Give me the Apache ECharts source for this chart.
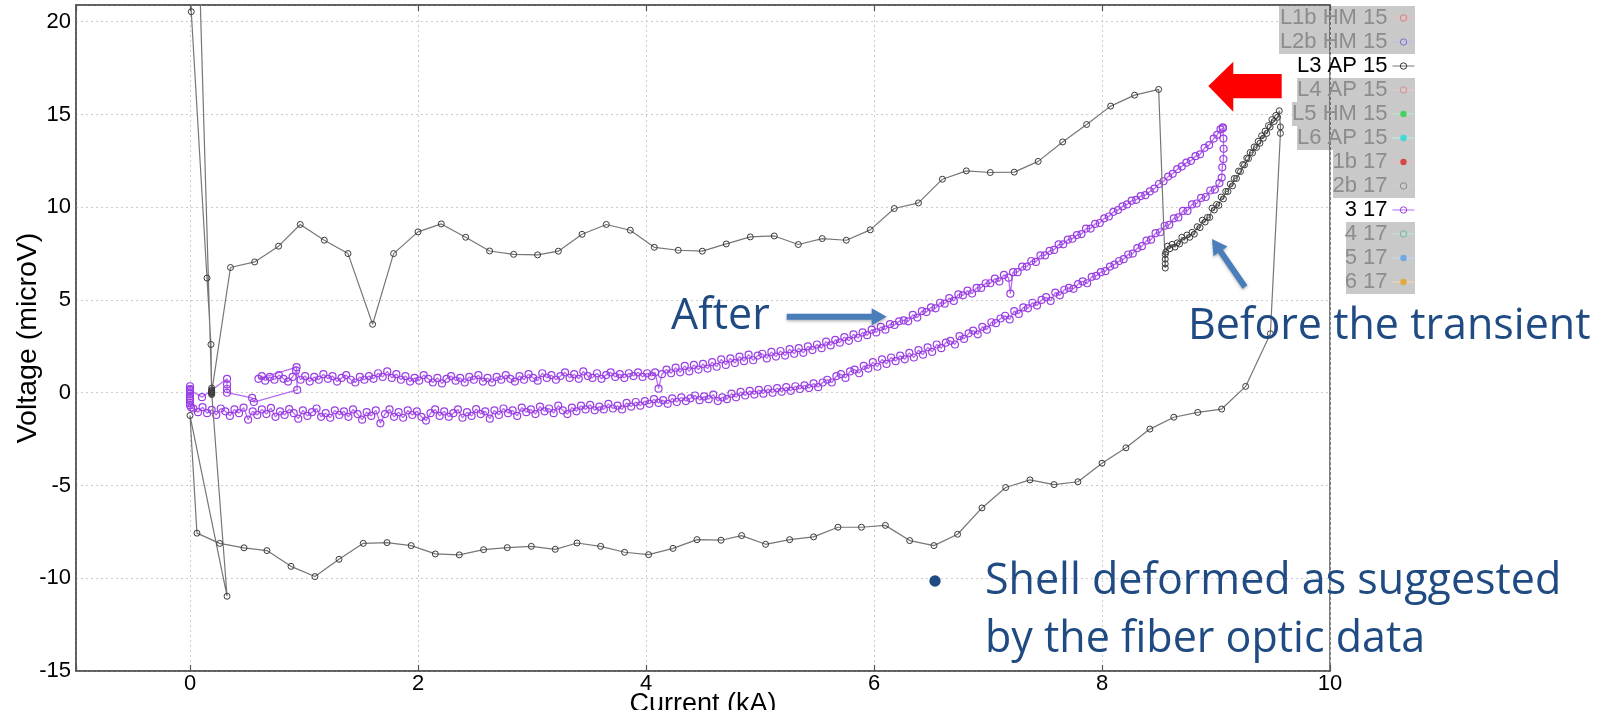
<!DOCTYPE html>
<html>
<head>
<meta charset="utf-8">
<script src="https://cdn.jsdelivr.net/npm/echarts@6/dist/echarts.min.js"></script>
<style>
  html, body { margin: 0; padding: 0; background: #ffffff; }
  #chart { width: 1614px; height: 725px; }
</style>
</head>
<body>
<div id="chart"></div>
<script>
// ---- Legend entries (all channels of the run) ----
const legendNames = ['L1b HM 15', 'L2b HM 15', 'L3 AP 15', 'L4 AP 15', 'L5 HM 15', 'L6 AP 15',
  '1b 17', '2b 17', '3 17', '4 17', '5 17', '6 17'];
const activeNames = ['L3 AP 15', '3 17'];

// ---- Axis tick values ----
const yTickValues = [-15, -10, -5, 0, 5, 10, 15, 20];
const xTickValues = [0, 2, 4, 6, 8, 10];

// ---- L3 AP 15 : [current kA, voltage microV] ----
const l3Start = [
  [0.19, 0.25], [0.19, 0.05], [0.19, -0.1], [0.19, 0.15], [0.19, -0.05], [0.19, 0.1],
  [0.0, 40], [0.011, 20.54], [0.149, 6.18], [0.184, 2.6], [0.19, 0.0],
  [0.325, -10.97], [0.0, -1.23]
];
const l3Lower = [
  [0.061, -7.57], [0.26, -8.12], [0.474, -8.36], [0.675, -8.51], [0.886, -9.36], [1.096, -9.91],
  [1.307, -8.98], [1.52, -8.12], [1.728, -8.08], [1.94, -8.24], [2.152, -8.69], [2.362, -8.74],
  [2.575, -8.46], [2.783, -8.35], [2.994, -8.28], [3.204, -8.44], [3.395, -8.10], [3.602, -8.28],
  [3.812, -8.60], [4.023, -8.73], [4.237, -8.39], [4.447, -7.92], [4.658, -7.95], [4.839, -7.70],
  [5.049, -8.17], [5.26, -7.92], [5.47, -7.77], [5.684, -7.25], [5.89, -7.25], [6.10, -7.15],
  [6.313, -7.97], [6.526, -8.24], [6.733, -7.63], [6.947, -6.21], [7.155, -5.11], [7.368, -4.70],
  [7.579, -4.95], [7.789, -4.80], [8.0, -3.80], [8.21, -2.97], [8.42, -1.96], [8.63, -1.32],
  [8.84, -1.06], [9.05, -0.88], [9.26, 0.34], [9.477, 3.18], [9.565, 13.98], [9.565, 14.33]
];
const l3Dense = [
  [9.555, 15.20], [9.54, 14.85], [9.525, 14.95], [9.51, 14.62], [9.49, 14.72], [9.475, 14.32],
  [9.46, 14.40], [9.445, 13.98], [9.43, 14.10], [9.415, 13.72], [9.40, 13.85], [9.385, 13.45],
  [9.37, 13.55], [9.355, 13.22], [9.335, 13.25], [9.32, 12.92], [9.30, 12.95], [9.285, 12.62],
  [9.27, 12.65], [9.25, 12.28], [9.235, 12.30], [9.215, 11.92], [9.198, 11.95], [9.18, 11.55],
  [9.16, 11.55], [9.145, 11.15], [9.125, 11.25], [9.105, 10.85], [9.085, 10.85], [9.065, 10.45],
  [9.045, 10.55], [9.025, 10.10], [9.005, 10.15], [8.985, 9.85], [8.965, 9.95], [8.945, 9.45],
  [8.925, 9.45], [8.905, 9.20], [8.88, 9.30], [8.86, 8.90], [8.835, 8.95], [8.81, 8.55],
  [8.79, 8.65], [8.77, 8.38], [8.745, 8.50], [8.725, 8.22], [8.70, 8.38], [8.68, 8.02],
  [8.66, 8.08], [8.64, 7.85], [8.615, 8.00], [8.595, 7.76], [8.575, 7.90], [8.56, 7.58],
  [8.555, 7.45], [8.555, 7.20], [8.555, 6.95], [8.555, 6.72]
];
// upper branch, listed by increasing current
const l3Upper = [
  [0.355, 6.75], [0.567, 7.05], [0.777, 7.90], [0.967, 9.07], [1.178, 8.22], [1.386, 7.50],
  [1.602, 3.69], [1.786, 7.50], [2.0, 8.67], [2.204, 9.10], [2.418, 8.38], [2.628, 7.64],
  [2.839, 7.46], [3.049, 7.43], [3.231, 7.63], [3.439, 8.54], [3.652, 9.07], [3.862, 8.76],
  [4.073, 7.84], [4.283, 7.68], [4.494, 7.63], [4.704, 8.02], [4.915, 8.40], [5.125, 8.45],
  [5.336, 7.99], [5.546, 8.31], [5.757, 8.22], [5.967, 8.78], [6.178, 9.93], [6.39, 10.23],
  [6.60, 11.51], [6.81, 11.96], [7.02, 11.87], [7.23, 11.89], [7.44, 12.47], [7.655, 13.52],
  [7.865, 14.46], [8.076, 15.45], [8.286, 16.04], [8.497, 16.35]
];
const l3End = [[0.19, 0.02]];

// ---- 3 17 : [current kA, voltage microV] ----
const p17Start = [
  [0.0, 0.35], [0.0, 0.2], [0.0, 0.08], [0.0, -0.05], [0.0, -0.18], [0.0, -0.3],
  [0.0, -0.42], [0.0, -0.55], [0.0, -0.68], [0.01, -0.8]
];
const p17Rise = [
  [0.03, -0.85], [0.07, -1.05], [0.11, -0.78], [0.15, -1.1], [0.19, -0.92], [0.23, -1.2],
  [0.27, -0.85], [0.31, -1.0], [0.35, -1.25], [0.39, -0.9], [0.43, -1.1], [0.47, -0.8],
  [0.51, -1.45], [0.55, -1.0], [0.59, -1.2], [0.63, -0.9], [0.67, -1.15], [0.71, -0.82],
  [0.75, -1.3], [0.79, -1.0], [0.83, -1.2], [0.87, -0.88], [0.91, -1.1], [0.95, -1.4],
  [0.99, -0.95], [1.03, -1.25], [1.07, -1.05], [1.11, -0.85], [1.15, -1.3], [1.19, -1.1],
  [1.23, -1.35], [1.27, -0.95], [1.31, -1.2], [1.35, -1.0], [1.39, -1.3], [1.43, -0.9],
  [1.47, -1.15], [1.51, -1.45], [1.55, -1.05], [1.59, -1.25], [1.63, -0.95], [1.67, -1.65],
  [1.71, -1.15], [1.75, -0.9], [1.79, -1.3], [1.83, -1.05], [1.87, -1.35], [1.91, -0.95],
  [1.95, -1.2], [1.99, -1.0], [2.03, -1.3], [2.07, -1.5], [2.11, -1.1], [2.15, -0.9],
  [2.19, -1.25], [2.23, -1.0], [2.27, -1.3], [2.31, -1.1], [2.35, -0.9], [2.39, -1.35],
  [2.43, -1.05], [2.47, -1.25], [2.51, -0.88], [2.55, -1.15], [2.59, -1.0], [2.63, -1.4],
  [2.67, -0.95], [2.71, -1.2], [2.75, -0.85], [2.79, -1.1], [2.83, -0.95], [2.87, -1.25],
  [2.91, -0.8], [2.95, -1.05], [2.99, -0.9], [3.03, -1.15], [3.07, -0.75], [3.11, -1.0],
  [3.15, -0.85], [3.19, -1.1], [3.23, -0.7], [3.27, -0.95], [3.31, -1.15], [3.35, -0.8],
  [3.39, -1.0], [3.43, -0.7], [3.47, -0.9], [3.51, -0.65], [3.55, -0.95], [3.59, -0.75],
  [3.63, -0.9], [3.67, -0.6], [3.71, -0.85], [3.75, -0.7], [3.79, -0.9], [3.83, -0.55],
  [3.87, -0.75], [3.91, -0.5], [3.95, -0.7], [3.99, -0.45], [4.03, -0.6], [4.07, -0.35],
  [4.11, -0.55], [4.15, -0.4], [4.19, -0.6], [4.23, -0.3], [4.27, -0.5], [4.31, -0.25],
  [4.35, -0.45], [4.39, -0.3], [4.43, -0.15], [4.47, -0.4], [4.51, -0.2], [4.55, -0.35],
  [4.59, -0.1], [4.63, -0.45], [4.67, -0.25], [4.71, -0.35], [4.75, -0.05], [4.79, -0.25],
  [4.83, 0.05], [4.87, -0.15], [4.91, 0.1], [4.95, -0.1], [4.99, 0.15], [5.03, -0.05],
  [5.07, 0.2], [5.11, 0.0], [5.15, 0.25], [5.19, 0.05], [5.23, 0.3], [5.27, 0.1],
  [5.31, 0.35], [5.35, 0.2], [5.39, 0.4], [5.43, 0.25], [5.47, 0.5], [5.51, 0.3],
  [5.55, 0.55], [5.59, 0.7], [5.63, 0.55], [5.67, 0.9], [5.71, 1.0], [5.75, 0.8],
  [5.79, 1.15], [5.83, 1.25], [5.87, 1.05], [5.91, 1.45], [5.95, 1.3], [5.99, 1.65],
  [6.03, 1.4], [6.07, 1.8], [6.11, 1.55], [6.15, 1.9], [6.19, 1.7], [6.23, 2.0],
  [6.27, 1.8], [6.31, 2.15], [6.35, 1.9], [6.39, 2.3], [6.43, 2.05], [6.47, 2.45],
  [6.51, 2.2], [6.55, 2.6], [6.59, 2.4], [6.63, 2.7], [6.67, 2.8], [6.71, 2.6],
  [6.75, 3.05], [6.79, 2.9], [6.83, 3.2], [6.87, 3.35], [6.91, 3.15], [6.95, 3.55],
  [6.99, 3.4], [7.03, 3.8], [7.07, 3.75], [7.11, 4.0], [7.15, 4.15], [7.19, 3.95],
  [7.23, 4.4], [7.27, 4.25], [7.31, 4.6], [7.35, 4.55], [7.39, 4.85], [7.43, 4.7],
  [7.47, 5.0], [7.51, 5.15], [7.55, 4.95], [7.59, 5.4], [7.63, 5.25], [7.67, 5.55],
  [7.71, 5.65], [7.75, 5.6], [7.79, 5.85], [7.83, 6.0], [7.87, 5.9], [7.91, 6.25],
  [7.95, 6.3], [7.99, 6.5], [8.03, 6.55], [8.07, 6.8], [8.11, 6.9], [8.15, 7.1],
  [8.19, 7.2], [8.23, 7.45], [8.27, 7.5], [8.31, 7.8], [8.35, 7.9], [8.39, 8.2],
  [8.43, 8.25], [8.47, 8.6], [8.51, 8.65], [8.55, 9.0], [8.59, 9.05], [8.63, 9.4],
  [8.67, 9.45], [8.71, 9.8], [8.75, 9.8], [8.79, 10.15], [8.83, 10.2], [8.87, 10.5],
  [8.91, 10.55], [8.95, 10.9], [8.99, 10.95], [9.03, 11.3], [9.05, 11.6],
  [9.055, 12.15], [9.065, 12.6], [9.067, 13.15], [9.065, 13.7], [9.06, 14.25]
];
// return branch, listed by increasing current
const p17Fall = [
  [0.60, 0.75], [0.63, 0.9], [0.66, 0.65], [0.70, 0.85], [0.74, 0.7], [0.78, 0.95],
  [0.82, 0.75], [0.86, 0.6], [0.90, 0.85], [0.93, 1.2], [0.97, 0.7], [1.01, 0.9],
  [1.05, 0.6], [1.09, 0.85], [1.13, 0.7], [1.17, 1.0], [1.21, 0.75], [1.25, 0.9],
  [1.29, 0.6], [1.33, 0.8], [1.37, 0.95], [1.41, 0.7], [1.45, 0.55], [1.49, 0.85],
  [1.53, 0.7], [1.57, 0.9], [1.61, 0.75], [1.65, 1.05], [1.69, 0.85], [1.73, 1.15],
  [1.77, 0.8], [1.81, 1.0], [1.85, 0.7], [1.89, 0.9], [1.93, 0.6], [1.97, 0.8],
  [2.01, 0.65], [2.05, 0.95], [2.09, 0.75], [2.13, 0.55], [2.17, 0.8], [2.21, 0.5],
  [2.25, 0.75], [2.29, 0.9], [2.33, 0.65], [2.37, 0.8], [2.41, 0.55], [2.45, 0.85],
  [2.49, 0.7], [2.53, 0.95], [2.57, 0.6], [2.61, 0.8], [2.65, 0.55], [2.69, 0.85],
  [2.73, 0.7], [2.77, 0.95], [2.81, 0.75], [2.85, 0.6], [2.89, 0.9], [2.93, 0.7],
  [2.97, 1.0], [3.01, 0.8], [3.05, 0.65], [3.09, 1.05], [3.13, 0.8], [3.17, 0.95],
  [3.21, 0.7], [3.25, 0.9], [3.29, 1.1], [3.33, 0.8], [3.37, 1.0], [3.41, 0.75],
  [3.45, 1.15], [3.49, 0.9], [3.53, 0.8], [3.57, 1.05], [3.61, 0.75], [3.65, 0.95],
  [3.69, 1.1], [3.73, 0.85], [3.77, 1.0], [3.81, 0.8], [3.85, 1.05], [3.89, 0.9],
  [3.93, 1.1], [3.97, 0.85], [4.01, 1.05], [4.05, 0.9], [4.08, 1.1], [4.11, 0.22],
  [4.14, 1.0], [4.18, 1.25], [4.22, 1.05], [4.26, 1.35], [4.30, 1.1], [4.34, 1.45],
  [4.38, 1.15], [4.42, 1.5], [4.46, 1.25], [4.50, 1.55], [4.54, 1.3], [4.58, 1.65],
  [4.62, 1.4], [4.66, 1.8], [4.70, 1.5], [4.74, 1.85], [4.78, 1.6], [4.82, 1.95],
  [4.86, 1.7], [4.90, 2.05], [4.94, 1.75], [4.98, 2.0], [5.02, 2.1], [5.06, 1.85],
  [5.10, 2.2], [5.14, 1.95], [5.18, 2.25], [5.22, 2.0], [5.26, 2.35], [5.30, 2.1],
  [5.34, 2.4], [5.38, 2.15], [5.42, 2.5], [5.46, 2.3], [5.50, 2.6], [5.54, 2.4],
  [5.58, 2.75], [5.62, 2.55], [5.66, 2.85], [5.70, 2.7], [5.74, 3.0], [5.78, 2.8],
  [5.82, 3.15], [5.86, 2.95], [5.90, 3.25], [5.94, 3.1], [5.98, 3.4], [6.02, 3.25],
  [6.06, 3.55], [6.10, 3.4], [6.14, 3.7], [6.18, 3.65], [6.22, 3.85], [6.26, 3.9],
  [6.30, 3.85], [6.34, 4.2], [6.38, 4.05], [6.42, 4.4], [6.46, 4.35], [6.50, 4.6],
  [6.54, 4.55], [6.58, 4.85], [6.62, 4.8], [6.66, 5.1], [6.70, 4.95], [6.74, 5.3],
  [6.78, 5.25], [6.82, 5.5], [6.86, 5.35], [6.90, 5.65], [6.94, 5.65], [6.98, 5.9],
  [7.02, 5.9], [7.06, 6.15], [7.10, 6.0], [7.14, 6.35], [7.18, 6.2], [7.196, 5.34],
  [7.22, 6.5], [7.26, 6.5], [7.30, 6.8], [7.34, 6.8], [7.38, 7.1], [7.42, 7.05],
  [7.46, 7.4], [7.50, 7.4], [7.54, 7.65], [7.58, 7.7], [7.62, 8.0], [7.66, 8.0],
  [7.70, 8.25], [7.74, 8.3], [7.78, 8.5], [7.82, 8.55], [7.86, 8.85], [7.90, 8.85],
  [7.94, 9.1], [7.98, 9.15], [8.02, 9.4], [8.06, 9.5], [8.10, 9.75], [8.14, 9.85],
  [8.18, 10.05], [8.22, 10.15], [8.26, 10.35], [8.30, 10.4], [8.34, 10.6], [8.38, 10.65],
  [8.42, 10.85], [8.46, 11.0], [8.50, 11.25], [8.54, 11.4], [8.58, 11.65], [8.62, 11.8],
  [8.66, 12.05], [8.70, 12.2], [8.74, 12.4], [8.78, 12.5], [8.82, 12.75], [8.86, 12.85],
  [8.90, 13.2], [8.94, 13.35], [8.98, 13.7], [9.01, 13.9], [9.04, 14.2], [9.06, 14.3]
];
const p17End = [
  [0.935, 1.38], [0.94, 0.15], [0.56, -0.5], [0.545, -0.28], [0.325, 0.0], [0.325, 0.2],
  [0.325, 0.45], [0.325, 0.75], [0.105, -0.24], [0.0, 0.15]
];

// Full traces in acquisition order
const l3Trace = [].concat(l3Start, l3Lower, l3Dense, l3Upper.slice().reverse(), l3End);
const p17Trace = [].concat(p17Start, p17Rise, p17Fall.slice().reverse(), p17End);

// ---- Channel styles ----
const channelStyle = {
  'L1b HM 15': { c: '#e07a7a', line: '#f2bcbc', fill: false },
  'L2b HM 15': { c: '#7474d4', line: '#bdbdf0', fill: false },
  'L3 AP 15':  { c: '#3a3a3a', line: '#767676', fill: false },
  'L4 AP 15':  { c: '#d48c8c', line: '#efc6c6', fill: false },
  'L5 HM 15':  { c: '#44d062', line: '#b8efc4', fill: true },
  'L6 AP 15':  { c: '#3fdad6', line: '#b5f1ef', fill: true },
  '1b 17':     { c: '#d24a4a', line: '#efb8b8', fill: true },
  '2b 17':     { c: '#8a8a8a', line: '#cfcfcf', fill: false },
  '3 17':      { c: '#9a3ee2', line: '#b56cf2', fill: false },
  '4 17':      { c: '#6fb89f', line: '#c2e6d9', fill: false },
  '5 17':      { c: '#6fa9e2', line: '#c3dcf4', fill: true },
  '6 17':      { c: '#e2a83e', line: '#f4dcae', fill: true }
};
const traceData = { 'L3 AP 15': l3Trace, '3 17': p17Trace };

const series = legendNames.map(function (name) {
  const st = channelStyle[name];
  const isPurple = name === '3 17';
  return {
    name: name,
    type: 'line',
    data: traceData[name] || [],
    symbol: 'circle',
    symbolSize: isPurple ? 7 : 6,
    showSymbol: true,
    showAllSymbol: true,
    clip: true,
    silent: true,
    animation: false,
    emphasis: { disabled: true },
    z: isPurple ? 3 : 4,
    itemStyle: st.fill
      ? { color: st.c, borderWidth: 0 }
      : { color: 'rgba(255,255,255,0)', borderColor: st.c, borderWidth: isPurple ? 1.2 : 1 },
    lineStyle: { color: st.line, width: isPurple ? 1.3 : 1.2 }
  };
});

// ---- Annotation helpers ----
function arrowPolygon(tail, tip, shaft, headLen, headHalf) {
  const dx = tip[0] - tail[0], dy = tip[1] - tail[1];
  const len = Math.hypot(dx, dy);
  const ux = dx / len, uy = dy / len, nx = -uy, ny = ux;
  const bx = tip[0] - ux * headLen, by = tip[1] - uy * headLen;
  const h = shaft / 2;
  return [
    [tail[0] + nx * h, tail[1] + ny * h],
    [bx + nx * h, by + ny * h],
    [bx + nx * headHalf, by + ny * headHalf],
    [tip[0], tip[1]],
    [bx - nx * headHalf, by - ny * headHalf],
    [bx - nx * h, by - ny * h],
    [tail[0] - nx * h, tail[1] - ny * h]
  ];
}
const noteColor = '#1f4b82';
const arrowBlue = '#4a7ebb';
const noteFont = '"Open Sans", "Noto Sans", sans-serif';

function noteText(str, x, y) {
  return {
    type: 'text', x: x, y: y, z: 20, silent: true,
    style: { text: str, fill: noteColor, fontSize: 43, fontFamily: noteFont, verticalAlign: 'middle', align: 'left' }
  };
}

// grey bands behind the hidden legend entries
const legendBand = [
  [1279, 0], [1279, 1], [1297, 3], [1292, 4], [1297, 5],
  [1333, 6], [1333, 7], [1346, 9], [1346, 10], [1346, 11]
];
const legendTop = 6, legendRow = 24, legendRight = 1415;

const graphics = legendBand.map(function (b) {
  return {
    type: 'rect', z: -1, silent: true,
    shape: { x: b[0], y: legendTop + legendRow * b[1], width: legendRight - b[0], height: legendRow },
    style: { fill: '#c9c9c9' }
  };
});

graphics.push(
  noteText('After', 671, 316.5),
  noteText('Before the transient', 1188, 327),
  noteText('Shell deformed as suggested', 985, 582),
  noteText('by the fiber optic data', 985, 640),
  {
    type: 'circle', z: 20, silent: true,
    shape: { cx: 935, cy: 581, r: 5.7 },
    style: { fill: noteColor }
  },
  {
    type: 'polygon', z: 20, silent: true,
    shape: { points: arrowPolygon([786.7, 316.7], [886.7, 316.7], 6, 15, 8.5) },
    style: { fill: arrowBlue, shadowBlur: 3, shadowColor: 'rgba(0,0,0,0.3)', shadowOffsetY: 1.5 }
  },
  {
    type: 'polygon', z: 20, silent: true,
    shape: { points: arrowPolygon([1245, 287], [1212, 239], 6, 15, 8.5) },
    style: { fill: arrowBlue, shadowBlur: 3, shadowColor: 'rgba(0,0,0,0.3)', shadowOffsetY: 1.5 }
  },
  {
    type: 'polygon', z: 20, silent: true,
    shape: { points: [[1281.7, 74], [1233.3, 74], [1233.3, 61.7], [1208.3, 86], [1233.3, 111.7], [1233.3, 98.3], [1281.7, 98.3]] },
    style: { fill: '#ff0000' }
  },
  {
    // page edge below the axis title
    type: 'rect', z: 100, silent: true,
    shape: { x: 0, y: 710, width: 1614, height: 15 },
    style: { fill: '#ffffff' }
  }
);

const axisFont = 'Liberation Sans';
const axisColor = '#555555';
const gridLine = { show: true, lineStyle: { color: '#cccccc', width: 1, type: [2, 3] } };

const chart = echarts.init(document.getElementById('chart'), null, { renderer: 'canvas' });
chart.setOption({
  animation: false,
  backgroundColor: '#ffffff',
  textStyle: { fontFamily: axisFont },
  grid: {
    left: 76, right: 284, top: 5, bottom: 54,
    show: true, borderColor: axisColor, borderWidth: 1.5, backgroundColor: 'transparent',
    containLabel: false, outerBoundsMode: 'none'
  },
  legend: {
    orient: 'vertical', right: 1614 - legendRight, top: legendTop, align: 'right',
    padding: 0, itemGap: 0, itemWidth: 22, itemHeight: 8,
    selectedMode: false,
    itemStyle: { borderWidth: 1 },
    lineStyle: { width: 1 },
    textStyle: { fontFamily: axisFont, fontSize: 22, lineHeight: legendRow },
    data: legendNames.map(function (n) {
      return { name: n, textStyle: { color: activeNames.indexOf(n) >= 0 ? '#000000' : '#8c8c8c' } };
    })
  },
  xAxis: [{
    type: 'value', position: 'bottom', min: -1, max: 10, minInterval: 2, maxInterval: 2,
    name: 'Current (kA)', nameLocation: 'middle', nameGap: 20, nameMoveOverlap: false,
    nameTextStyle: { fontFamily: axisFont, fontSize: 27, color: '#000' },
    axisLine: { show: true, onZero: false, lineStyle: { color: axisColor, width: 1.5 } },
    axisTick: { show: true, inside: true, length: 6, lineStyle: { color: axisColor, width: 1.2 } },
    axisLabel: {
      show: true, margin: 2, fontSize: 22, color: '#000', fontFamily: axisFont,
      formatter: function (v) { return xTickValues.indexOf(v) >= 0 ? String(v) : ''; }
    },
    splitLine: gridLine
  }, {
    type: 'value', position: 'top', min: -1, max: 10, minInterval: 2, maxInterval: 2,
    axisLine: { show: true, onZero: false, lineStyle: { color: axisColor, width: 1.5 } },
    axisTick: { show: true, inside: true, length: 6, lineStyle: { color: axisColor, width: 1.2 } },
    axisLabel: { show: false },
    splitLine: { show: false }
  }],
  yAxis: {
    type: 'value', min: -15, max: 20.9, interval: 5,
    name: 'Voltage (microV)', nameLocation: 'middle', nameGap: 33, nameMoveOverlap: false,
    nameTextStyle: { fontFamily: axisFont, fontSize: 28.5, color: '#000' },
    axisLine: { show: true, onZero: false, lineStyle: { color: axisColor, width: 1.5 } },
    axisTick: { show: false },
    axisLabel: {
      show: true, margin: 5, fontSize: 22, color: '#000', fontFamily: axisFont,
      formatter: function (v) { return yTickValues.indexOf(v) >= 0 ? String(v) : ''; }
    },
    splitLine: gridLine
  },
  graphic: { elements: graphics },
  series: series
});
</script>
</body>
</html>
